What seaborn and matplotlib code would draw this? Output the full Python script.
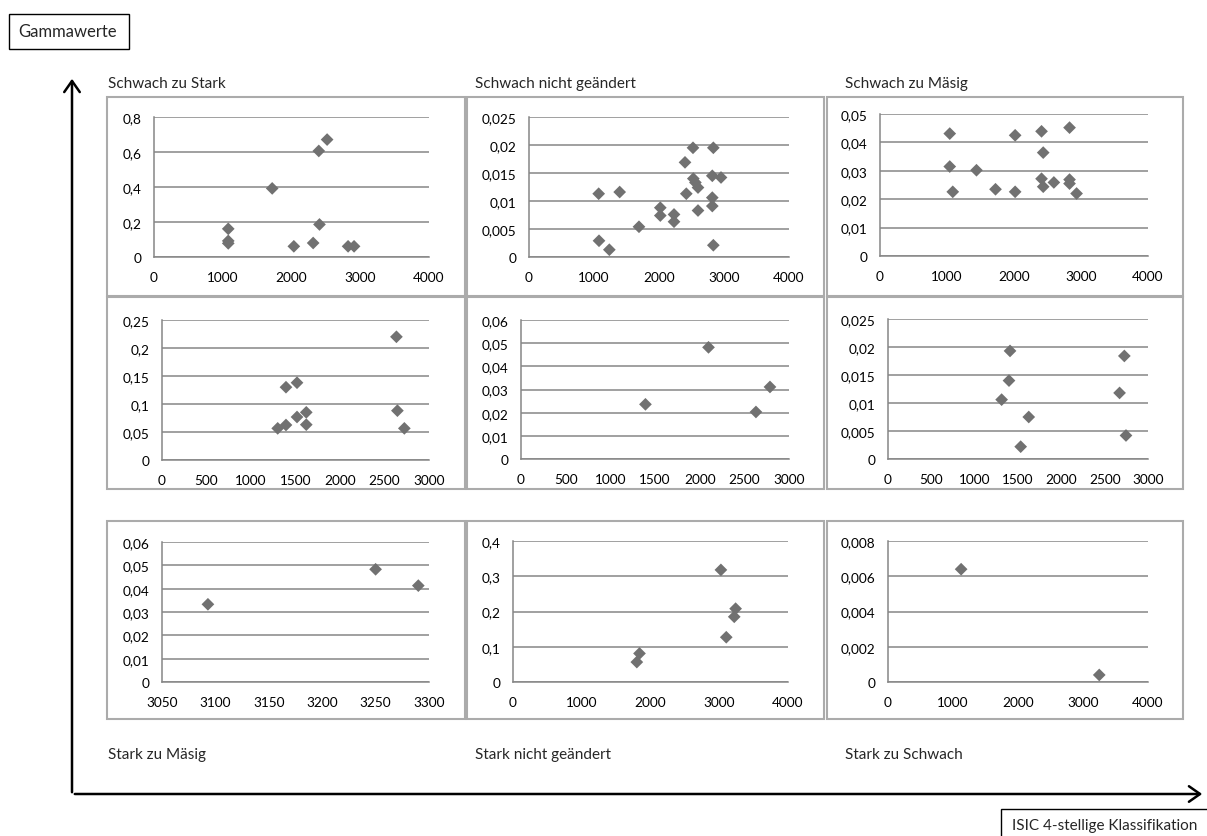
import matplotlib
matplotlib.use("Agg")
import matplotlib.pyplot as plt
from matplotlib.patches import Rectangle, FancyArrowPatch
from matplotlib.ticker import FuncFormatter, FixedLocator
import seaborn as sns

# ---- data: ISIC code (x) vs. gamma value (y) per transition group ----
titles_top = ["Schwach zu Stark", "Schwach nicht geändert", "Schwach zu Mäsig"]
titles_bottom = ["Stark zu Mäsig", "Stark nicht geändert", "Stark zu Schwach"]

x_schwach_stark = [1080, 1080, 1080, 1719, 2034, 2315, 2397, 2407, 2518, 2823, 2910]
y_schwach_stark = [0.161, 0.092, 0.078, 0.392, 0.061, 0.080, 0.606, 0.186, 0.671, 0.061, 0.061]

x_schwach_gleich = [1072, 1077, 1236, 1395, 1692, 2020, 2020, 2231, 2231, 2400, 2420,
                    2523, 2528, 2560, 2600, 2600, 2820, 2836, 2820, 2820, 2836, 2954]
y_schwach_gleich = [0.0113, 0.0029, 0.0013, 0.0116, 0.0054, 0.0088, 0.0074, 0.0076, 0.0063,
                    0.0169, 0.0113, 0.0195, 0.0140, 0.0133, 0.0124, 0.0083, 0.0145, 0.0195,
                    0.0106, 0.0091, 0.0021, 0.0142]

x_schwach_maesig = [1041, 1041, 1086, 1440, 1724, 2017, 2017, 2411, 2436, 2411, 2436,
                    2595, 2829, 2829, 2829, 2934]
y_schwach_maesig = [0.0431, 0.0315, 0.0226, 0.0302, 0.0235, 0.0425, 0.0226, 0.0439, 0.0364,
                    0.0272, 0.0244, 0.0259, 0.0452, 0.0269, 0.0255, 0.0220]

x_mittel_a = [1300, 1393, 1393, 1517, 1517, 1621, 1621, 2634, 2645, 2723]
y_mittel_a = [0.0565, 0.0625, 0.130, 0.138, 0.0768, 0.0851, 0.0631, 0.220, 0.0881, 0.0565]

x_mittel_b = [1393, 2099, 2630, 2787]
y_mittel_b = [0.0236, 0.0482, 0.0203, 0.0311]

x_mittel_c = [1408, 1396, 1311, 1624, 1531, 2727, 2672, 2746]
y_mittel_c = [0.0193, 0.0140, 0.0106, 0.0075, 0.0022, 0.0184, 0.0118, 0.0042]

x_stark_maesig = [3093, 3250, 3290]
y_stark_maesig = [0.0333, 0.0483, 0.0413]

x_stark_gleich = [3024, 3238, 3218, 3102, 1840, 1801]
y_stark_gleich = [0.318, 0.208, 0.185, 0.127, 0.081, 0.0565]

x_stark_schwach = [1125, 3250]
y_stark_schwach = [0.0064, 0.0004]

# axis ticks for each panel
xt_4000 = [0, 1000, 2000, 3000, 4000]
xt_3000 = [0, 500, 1000, 1500, 2000, 2500, 3000]
xt_3300 = [3050, 3100, 3150, 3200, 3250, 3300]
yt_1 = [0, 0.2, 0.4, 0.6, 0.8]
yt_2 = [0, 0.005, 0.01, 0.015, 0.02, 0.025]
yt_3 = [0, 0.01, 0.02, 0.03, 0.04, 0.05]
yt_4 = [0, 0.05, 0.1, 0.15, 0.2, 0.25]
yt_5 = [0, 0.01, 0.02, 0.03, 0.04, 0.05, 0.06]
yt_6 = [0, 0.005, 0.01, 0.015, 0.02, 0.025]
yt_7 = [0, 0.01, 0.02, 0.03, 0.04, 0.05, 0.06]
yt_8 = [0, 0.1, 0.2, 0.3, 0.4]
yt_9 = [0, 0.002, 0.004, 0.006, 0.008]

# ---- layout (pixel coordinates, origin top-left) ----
W, H = 1207, 837
sns.set_theme(style="white")
plt.rcParams["font.family"] = ["Lato", "DejaVu Sans"]

fig = plt.figure(figsize=(W / 100, H / 100), dpi=100)
fig.patch.set_facecolor("white")


def fbox(x0, y0, x1, y1):
    return [x0 / W, 1 - y1 / H, (x1 - x0) / W, (y1 - y0) / H]


def fpt(x, y):
    return (x / W, 1 - y / H)


def de_fmt(v, pos):
    return f"{round(v, 6):g}".replace(".", ",")


GRID = "#868686"
FRAME = "#ababab"
MARK = "#717171"
TICK_FS = 9.8
LABEL_FS = 11.0

panels = [
    # frame box, plot box, x, y, xticks, yticks
    ((107, 98, 465, 297), (154, 118, 429, 258), x_schwach_stark, y_schwach_stark, xt_4000, yt_1),
    ((467, 98, 824, 297), (529, 118, 789, 258), x_schwach_gleich, y_schwach_gleich, xt_4000, yt_2),
    ((827, 98, 1183, 297), (880, 115, 1148, 257), x_schwach_maesig, y_schwach_maesig, xt_4000, yt_3),
    ((107, 298, 465, 490), (162, 321, 429, 461), x_mittel_a, y_mittel_a, xt_3000, yt_4),
    ((467, 298, 824, 490), (521, 321, 789, 460), x_mittel_b, y_mittel_b, xt_3000, yt_5),
    ((827, 298, 1183, 490), (888, 320, 1148, 460), x_mittel_c, y_mittel_c, xt_3000, yt_6),
    ((107, 522, 465, 720), (162, 543, 429, 683), x_stark_maesig, y_stark_maesig, xt_3300, yt_7),
    ((467, 522, 824, 720), (513, 542, 788, 683), x_stark_gleich, y_stark_gleich, xt_4000, yt_8),
    ((827, 522, 1183, 720), (888, 542, 1148, 683), x_stark_schwach, y_stark_schwach, xt_4000, yt_9),
]

for frame, box, xs, ys, xt, yt in panels:
    fig.add_artist(Rectangle(fpt(frame[0], frame[3]), (frame[2] - frame[0]) / W,
                             (frame[3] - frame[1]) / H, transform=fig.transFigure,
                             fill=False, edgecolor=FRAME, linewidth=1.5))
    ax = fig.add_axes(fbox(*box))
    ax.set_facecolor("none")
    sns.scatterplot(x=xs, y=ys, ax=ax, marker="D", s=42, color=MARK,
                    edgecolor="none", linewidth=0, zorder=3, clip_on=False)
    ax.set_xlim(xt[0], xt[-1])
    ax.set_ylim(yt[0], yt[-1])
    ax.xaxis.set_major_locator(FixedLocator(xt))
    ax.yaxis.set_major_locator(FixedLocator(yt))
    ax.xaxis.set_major_formatter(FuncFormatter(de_fmt))
    ax.yaxis.set_major_formatter(FuncFormatter(de_fmt))
    ax.set_axisbelow(True)
    ax.yaxis.grid(True, color=GRID, linewidth=1.1)
    ax.xaxis.grid(False)
    for side in ("top", "right"):
        ax.spines[side].set_visible(False)
    for side in ("left", "bottom"):
        ax.spines[side].set_color(GRID)
        ax.spines[side].set_linewidth(1.1)
    ax.tick_params(axis="both", direction="out", length=3, width=1, color=GRID,
                   labelsize=TICK_FS, labelcolor="black")
    ax.tick_params(axis="x", pad=7)
    ax.tick_params(axis="y", pad=6)
    ax.set_xlabel("")
    ax.set_ylabel("")

# group titles above and below the grid of charts
for i, t in enumerate(titles_top):
    fig.text(*fpt([108, 475, 845][i], 84), t, fontsize=LABEL_FS, ha="left", va="center")
for i, t in enumerate(titles_bottom):
    fig.text(*fpt([108, 475, 845][i], 755), t, fontsize=LABEL_FS, ha="left", va="center")

# axis arrows
fig.add_artist(FancyArrowPatch(fpt(72, 796), fpt(72, 77), transform=fig.transFigure,
                               arrowstyle="->,head_length=0.5,head_width=0.35",
                               mutation_scale=16, linewidth=1.8, color="black"))
fig.add_artist(FancyArrowPatch(fpt(72, 795), fpt(1205, 795), transform=fig.transFigure,
                               arrowstyle="->,head_length=0.5,head_width=0.35",
                               mutation_scale=16, linewidth=1.8, color="black"))

# axis caption boxes
fig.add_artist(Rectangle(fpt(9, 50), 120 / W, 35 / H, transform=fig.transFigure,
                         fill=False, edgecolor="black", linewidth=1.0))
fig.text(*fpt(68, 32), "Gammawerte", fontsize=12, ha="center", va="center")
fig.add_artist(Rectangle(fpt(1001, 845), 220 / W, 35 / H, transform=fig.transFigure,
                         fill=False, edgecolor="black", linewidth=1.0))
fig.text(*fpt(1012, 826), "ISIC 4-stellige Klassifikation", fontsize=LABEL_FS,
         ha="left", va="center")

fig.savefig("out.png", dpi=100, facecolor="white")
